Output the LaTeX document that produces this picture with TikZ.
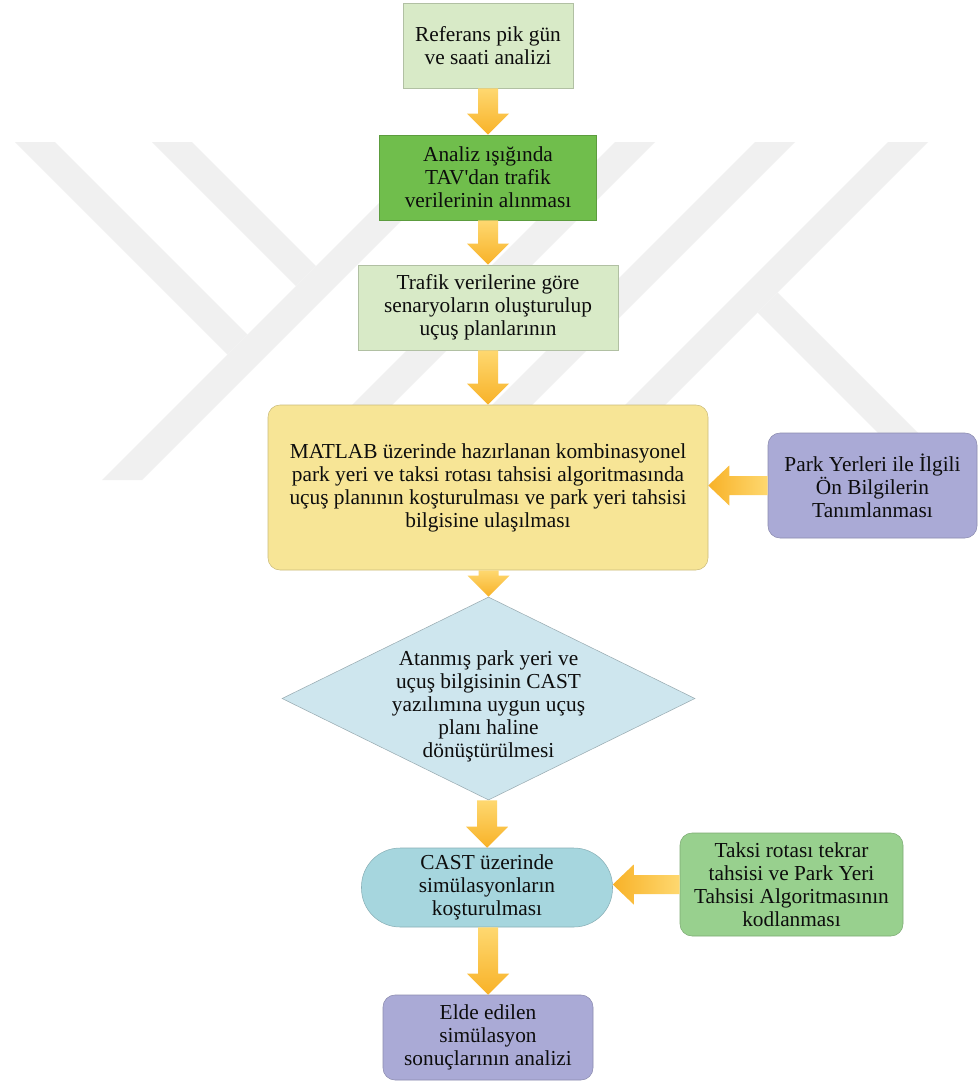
\documentclass[tikz,border=0pt]{standalone}
\usepackage{fontspec}
\setmainfont{Liberation Serif}[Ligatures=TeXOff]
\usetikzlibrary{calc,shapes.geometric}
\definecolor{wmgray}{RGB}{240,240,240}
\definecolor{lgreen}{RGB}{216,234,199}
\definecolor{mgreen}{RGB}{112,190,76}
\definecolor{myellow}{RGB}{247,229,150}
\definecolor{lavender}{RGB}{170,170,214}
\definecolor{dblue}{RGB}{206,230,238}
\definecolor{cteal}{RGB}{166,214,222}
\definecolor{tgreen}{RGB}{152,208,142}
\definecolor{arrowtop}{RGB}{254,216,112}
\definecolor{arrowbot}{RGB}{248,178,40}
\newcommand{\fatdown}[2]{%
  \shade[top color=arrowtop, bottom color=arrowbot]
    ($(#1.south -| #2.north)+(-10,0)$) -- ($(#2.north)+(-10,-21)$) --
    ($(#2.north)+(-21,-21)$) -- (#2.north) -- ($(#2.north)+(21,-21)$) --
    ($(#2.north)+(10,-21)$) -- ($(#1.south -| #2.north)+(10,0)$) -- cycle;}
\newcommand{\fatleft}[2]{%
  \shade[left color=arrowbot, right color=arrowtop]
    ($(#1.west)+(0,-9.5)$) -- ($(#2.east |- #1.west)+(21,-9.5)$) --
    ($(#2.east |- #1.west)+(21,-20)$) -- (#2.east |- #1.west) --
    ($(#2.east |- #1.west)+(21,20)$) -- ($(#2.east |- #1.west)+(21,9.5)$) --
    ($(#1.west)+(0,9.5)$) -- cycle;}
\begin{document}
\begin{tikzpicture}[x=0.75pt,y=-0.75pt,
  txt/.style={align=center, inner sep=0pt, text=black!95,
    font=\fontsize{16}{17.2}\selectfont},
  box/.style={txt, draw=#1!82!black, fill=#1, line width=0.4pt},
  rbox/.style={box=#1, rounded corners=9pt},
  wm/.style={fill=wmgray, draw=none}]
\fill[white] (0,0) rectangle (978,1082);
\useasboundingbox (0,0) rectangle (978,1082);
% watermark
\path[wm] (15,142) -- (55,142) -- (247.5,334.5) -- (227.5,354.5) -- cycle;
\path[wm] (152,142) -- (192,142) -- (316,266) -- (296,286) -- cycle;
\path[wm] (440,142) -- (480,142) -- (142,480) -- (102,480) -- cycle;
\path[wm] (615,142) -- (655,142) -- (317,480) -- (277,480) -- cycle;
\path[wm] (755,142) -- (795,142) -- (457,480) -- (417,480) -- cycle;
\path[wm] (888,142) -- (928,142) -- (590,480) -- (550,480) -- cycle;
\path[wm] (757.5,312.5) -- (777.5,292.5) -- (920,435) -- (880,435) -- cycle;
% nodes
\node[box=lgreen, minimum width=127.5pt, minimum height=63.75pt] (n1) at (488,45.5)
  {Referans pik gün\\ve saati analizi};
\node[box=mgreen, minimum width=162.75pt, minimum height=63.75pt] (n2) at (488,177.5)
  {Analiz ışığında\\TAV'dan trafik\\verilerinin alınması};
\node[box=lgreen, minimum width=195pt, minimum height=63.75pt] (n3) at (488,307.5)
  {Trafik verilerine göre\\senaryoların oluşturulup\\uçuş planlarının};
\node[rbox=myellow, minimum width=330pt, minimum height=123.75pt] (n4) at (488,487.5)
  {MATLAB üzerinde hazırlanan kombinasyonel\\park yeri ve taksi rotası tahsisi algoritmasında\\uçuş planının koşturulması ve park yeri tahsisi\\bilgisine ulaşılması};
\node[rbox=lavender, minimum width=156.75pt, minimum height=78.75pt] (park) at (872.5,485.5)
  {Park Yerleri ile İlgili\\Ön Bilgilerin\\Tanımlanması};
\node[diamond, draw=dblue!75!black, fill=dblue, line width=0.4pt, inner sep=0pt,
  minimum width=309.75pt, minimum height=152.25pt] (d) at (488.5,698.5) {};
\node[txt] (dtext) at (488.5,706) {Atanmış park yeri ve\\uçuş bilgisinin CAST\\yazılımına uygun uçuş\\planı haline\\dönüştürülmesi};
\node[box=cteal, rounded corners=29pt, minimum width=188.25pt, minimum height=59.25pt] (cast) at (487,887.5)
  {CAST üzerinde\\simülasyonların\\koşturulması};
\node[rbox=tgreen, minimum width=167.25pt, minimum height=77.25pt] (taksi) at (791.5,884.5)
  {Taksi rotası tekrar\\tahsisi ve Park Yeri\\Tahsisi Algoritmasının\\kodlanması};
\node[rbox=lavender, minimum width=157.5pt, minimum height=63.75pt] (elde) at (488,1037.5)
  {Elde edilen\\simülasyon\\sonuçlarının analizi};
% arrows
\fatdown{n1}{n2}
\fatdown{n2}{n3}
\fatdown{n3}{n4}
\fatdown{n4}{d}
\fatdown{d}{cast}
\fatdown{cast}{elde}
\fatleft{park}{n4}
\fatleft{taksi}{cast}
\end{tikzpicture}
\end{document}
